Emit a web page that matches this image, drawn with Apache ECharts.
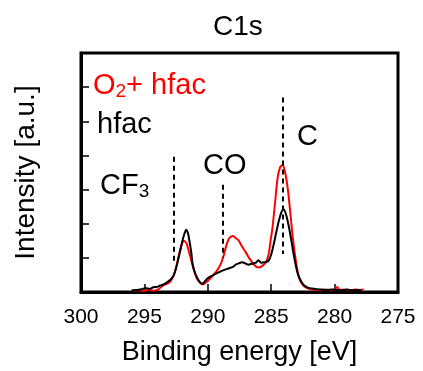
<!DOCTYPE html>
<html>
<head>
<meta charset="utf-8">
<script src="https://cdn.jsdelivr.net/npm/echarts@6/dist/echarts.min.js"></script>
<style>html,body{margin:0;padding:0;background:#fff;}#c{width:423px;height:371px;}</style>
</head>
<body>
<div id="c"></div>
<script>
var hfacE = [296.0, 295.6, 295.2, 294.9, 294.6, 294.3, 294.0, 293.75, 293.5, 293.2, 292.95, 292.7, 292.5, 292.3, 292.15, 292.0, 291.85, 291.7, 291.55, 291.45, 291.3, 291.2, 291.0, 290.8, 290.6, 290.45, 290.3, 290.05, 289.8, 289.4, 289.0, 288.7, 288.45, 288.2, 288.0, 287.8, 287.55, 287.3, 287.05, 286.8, 286.6, 286.4, 286.2, 286.0, 285.8, 285.6, 285.4, 285.2, 285.0, 284.8, 284.6, 284.4, 284.2, 284.05, 283.9, 283.7, 283.5, 283.3, 283.1, 282.9, 282.65, 282.4, 282.1, 281.8, 281.4, 281.0, 280.6, 280.2, 279.8, 279.4, 279.0, 278.6, 278.2, 277.9];
var hfacI = [0.05, 0.06, 0.08, 0.12, 0.09, 0.14, 0.15, 0.19, 0.22, 0.29, 0.36, 0.48, 0.7, 1.01, 1.25, 1.5, 1.7, 1.82, 1.7, 1.5, 1.15, 0.82, 0.55, 0.39, 0.28, 0.24, 0.28, 0.39, 0.45, 0.53, 0.6, 0.65, 0.68, 0.71, 0.74, 0.8, 0.84, 0.87, 0.84, 0.8, 0.82, 0.84, 0.86, 0.93, 0.86, 0.87, 0.88, 0.92, 1.1, 1.4, 1.75, 2.08, 2.33, 2.42, 2.35, 2.08, 1.7, 1.26, 0.85, 0.53, 0.32, 0.19, 0.13, 0.1, 0.08, 0.07, 0.06, 0.07, 0.06, 0.05, 0.07, 0.05, 0.06, 0.05];
var o2E = [295.9, 295.5, 295.1, 294.7, 294.3, 293.9, 293.5, 293.2, 293.0, 292.8, 292.6, 292.4, 292.2, 292.05, 291.9, 291.75, 291.65, 291.5, 291.3, 291.1, 290.9, 290.65, 290.4, 290.15, 289.9, 289.6, 289.3, 289.0, 288.75, 288.55, 288.35, 288.15, 288.0, 287.8, 287.55, 287.3, 287.0, 286.75, 286.5, 286.25, 286.05, 285.8, 285.6, 285.4, 285.2, 285.05, 284.9, 284.7, 284.5, 284.3, 284.1, 283.9, 283.7, 283.5, 283.3, 283.05, 282.8, 282.5, 282.2, 281.9, 281.5, 281.1, 280.7, 280.3, 280.0, 279.8, 279.6, 279.2, 278.8, 278.4, 278.0, 277.7];
var o2I = [0.04, 0.05, 0.03, 0.06, 0.04, 0.08, 0.2, 0.24, 0.29, 0.4, 0.58, 0.88, 1.21, 1.4, 1.5, 1.46, 1.4, 1.2, 0.92, 0.65, 0.43, 0.28, 0.22, 0.28, 0.36, 0.48, 0.61, 0.8, 1.06, 1.35, 1.55, 1.63, 1.64, 1.58, 1.5, 1.33, 1.16, 1.0, 0.87, 0.76, 0.72, 0.74, 0.8, 0.88, 1.11, 1.5, 1.88, 2.6, 3.33, 3.65, 3.72, 3.5, 3.04, 2.35, 1.6, 0.9, 0.41, 0.2, 0.12, 0.08, 0.06, 0.05, 0.07, 0.05, 0.08, 0.15, 0.06, 0.07, 0.05, 0.07, 0.06, 0.07];
var peakNames = ['CF3', 'CO', 'C'];
var peakE = [292.7, 288.8, 284.1];
var peakTop = [3.96, 3.14, 5.7];
var peakBottom = [0.82, 1.01, 1.11];
var xTicks = [300, 295, 290, 285, 280, 275];

function pairs(xs, ys) { return xs.map(function (x, i) { return [x, ys[i]]; }); }
var FONT = '"Liberation Sans", Arial, sans-serif';
var chart = echarts.init(document.getElementById('c'), null, {renderer: 'canvas'});
var markData = peakE.map(function (e, i) {
  return [{coord: [e, peakTop[i]]}, {coord: [e, peakBottom[i]]}];
});
chart.setOption({
  animation: false,
  backgroundColor: '#fff',
  title: {text: 'C1s', left: 208, top: 8, textStyle: {fontFamily: FONT, fontSize: 28, fontWeight: 'normal', color: '#000'}},
  grid: {left: 81, right: 25, top: 53, bottom: 76, show: true, borderColor: '#000', borderWidth: 3, backgroundColor: 'transparent'},
  xAxis: {
    type: 'value', inverse: true, min: 275, max: 300, interval: 5,
    axisLine: {lineStyle: {color: '#000', width: 3}},
    axisTick: {inside: true, length: 8, lineStyle: {color: '#000', width: 1.5}},
    axisLabel: {fontFamily: FONT, fontSize: 21, color: '#000', margin: 15,
      formatter: function (v) { return xTicks.indexOf(v) >= 0 ? String(v) : ''; }},
    splitLine: {show: false},
    name: 'Binding energy [eV]', nameLocation: 'middle', nameGap: 47,
    nameTextStyle: {fontFamily: FONT, fontSize: 27, color: '#000'}
  },
  yAxis: {
    type: 'value', min: 0, max: 7, interval: 1,
    axisLine: {show: true, lineStyle: {color: '#000', width: 3}},
    axisTick: {show: true, inside: true, length: 8, lineStyle: {color: '#000', width: 1.5}},
    axisLabel: {show: false},
    splitLine: {show: false},
    name: 'Intensity [a.u.]', nameLocation: 'middle', nameGap: 41,
    nameTextStyle: {fontFamily: FONT, fontSize: 28, color: '#000'}
  },
  series: [
    {type: 'line', name: 'O2+ hfac', data: pairs(o2E, o2I), showSymbol: false, smooth: 0.3,
     lineStyle: {color: '#ff0000', width: 2}},
    {type: 'line', name: 'hfac', data: pairs(hfacE, hfacI), showSymbol: false, smooth: 0.3,
     lineStyle: {color: '#000', width: 2},
     markLine: {silent: true, symbol: 'none', label: {show: false},
       lineStyle: {color: '#000', width: 2, type: [5, 4]}, data: markData}}
  ],
  graphic: [
    {type: 'text', left: 93, top: 71, style: {text: '{a|O}{s|2}{a|+ hfac}', rich: {
      a: {fontFamily: FONT, fontSize: 29, fill: '#ff0000', lineHeight: 32},
      s: {fontFamily: FONT, fontSize: 19, fill: '#ff0000', padding: [13, 0, 0, 0]}}}},
    {type: 'text', left: 97, top: 110, style: {text: 'hfac', fontFamily: FONT, fontSize: 29, fill: '#000'}},
    {type: 'text', left: 100, top: 171, style: {text: '{a|CF}{s|3}', rich: {
      a: {fontFamily: FONT, fontSize: 29, fill: '#000', lineHeight: 32},
      s: {fontFamily: FONT, fontSize: 19, fill: '#000', padding: [13, 0, 0, 0]}}}},
    {type: 'text', left: 203, top: 151, style: {text: 'CO', fontFamily: FONT, fontSize: 29, fill: '#000'}},
    {type: 'text', left: 297, top: 122, style: {text: 'C', fontFamily: FONT, fontSize: 29, fill: '#000'}}
  ]
});
</script>
</body>
</html>
